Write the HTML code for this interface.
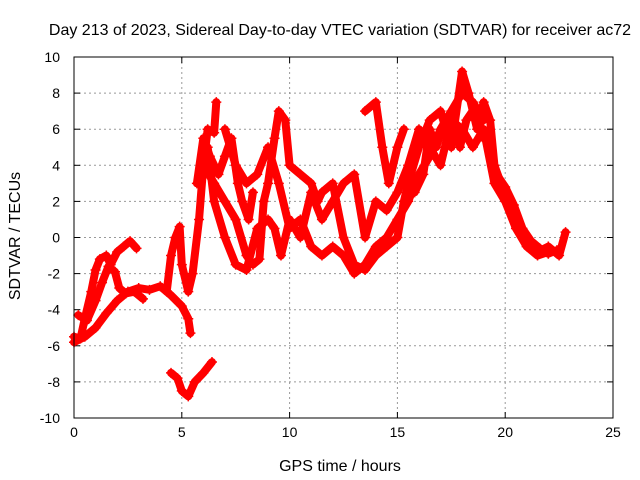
<!DOCTYPE html>
<html><head><meta charset="utf-8"><style>
body{margin:0;background:#fff}
svg{display:block;font-family:"Liberation Sans",sans-serif}
</style></head><body>
<svg id="chart" width="640" height="480">
<rect width="640" height="480" fill="#fff"/>
<text x="340" y="35" font-size="16" text-anchor="middle">Day 213 of 2023, Sidereal Day-to-day VTEC variation (SDTVAR) for receiver ac72</text>
<text x="340" y="471" font-size="16" text-anchor="middle">GPS time / hours</text>
<text transform="translate(20,236) rotate(-90)" font-size="16" text-anchor="middle">SDTVAR / TECUs</text>
<g id="grid"></g>
<g id="ticks"></g>
<g id="series"></g>
<rect x="74" y="57" width="539" height="361" fill="none" stroke="#000" stroke-width="1"/>
</svg>
<script>
const xTicks=[0,5,10,15,20,25];
const yTicks=[-10,-8,-6,-4,-2,0,2,4,6,8,10];
const trackA=[[0,-5.5],[0.3,-5.6],[0.5,-4.5],[0.8,-3],[1,-1.8],[1.2,-1.2],[1.5,-1],[1.7,-1.5],[2,-0.8],[2.3,-0.5],[2.6,-0.2],[2.9,-0.6]];
const trackB=[[0,-5.8],[0.5,-5.5],[1,-5],[1.5,-4.2],[2,-3.5],[2.5,-3],[3,-2.8],[3.5,-2.9],[4,-2.7],[4.5,-3.2],[5,-3.8],[5.3,-4.5],[5.4,-5.3]];
const trackH=[[0.2,-4.3],[0.6,-4.6],[1,-3.5],[1.3,-2.5],[1.6,-1.6],[1.9,-1.9],[2.1,-2.8],[2.4,-3.1],[2.8,-3],[3.2,-3.4]];
const trackC=[[4.3,-3],[4.5,-1],[4.7,0],[4.9,0.6],[5,-1.5],[5.3,-3],[5.5,-2],[5.8,1],[6,4],[6.2,6],[6.5,5.8],[6.6,7.5]];
const trackLow=[[4.5,-7.5],[4.8,-7.8],[5,-8.5],[5.3,-8.8],[5.6,-8],[6,-7.5],[6.4,-6.9]];
const trackD=[[6,4],[6.5,3],[7,2],[7.5,1],[8,-1],[8.3,-1.5],[8.6,-1.2],[8.8,2],[9,3],[9.3,5.5],[9.5,7],[9.8,6.5],[10,4],[10.5,3.5],[11,3],[11.3,2],[11.5,2.5],[12,3],[12.5,0],[13,-1.5],[13.5,-1.8],[14,-1],[14.5,-0.5],[15,0],[15.3,2],[15.5,3],[16,5],[16.5,6.5],[17,7],[17.5,5],[18,9.2],[18.3,8],[18.7,6],[19,7.5],[19.3,6.5],[19.5,4],[19.8,3],[20.2,2],[20.5,1],[21,-0.5],[21.5,-0.8],[22,-0.5],[22.5,-1],[22.8,0.3]];
const trackE=[[6.2,5],[6.5,2],[7,0],[7.5,-1.5],[8,-1.8],[8.5,0.5],[9,1],[9.3,0.5],[9.6,-1],[10,1],[10.5,0],[11,2.5],[11.5,1],[12,2],[12.5,3],[13,3.5],[13.5,0],[14,2],[14.5,1.5],[15,2.5],[15.5,4],[16,6],[16.5,5],[17,4],[17.5,6.5],[18,6],[18.5,5],[19,6],[19.5,3],[20,2],[20.5,0.5],[21,-0.5],[21.5,-1],[22,-0.8]];
const trackF=[[7,6],[7.5,4],[8,3],[8.5,3.5],[9,5],[9.5,3],[10,0.5],[10.5,1],[11,-0.5],[11.5,-1],[12,-0.5],[12.5,-1],[13,-2],[13.5,-1.5],[14,-0.5],[14.5,0],[15,1],[15.5,2],[16,3.5],[16.5,4.5],[17,6],[17.5,7],[18,8],[18.5,7.5],[19,6.5]];
const trackG=[[13.5,7],[14,7.5],[14.3,5],[14.6,3],[15,5],[15.3,6]];
const trackI=[[5.7,3],[6,5.5],[6.3,4.5],[6.7,3.5],[7,4.5],[7.3,5.5],[7.6,3],[7.8,2],[8.1,1],[8.3,2.5]];
const trackJ=[[15.8,2.5],[16.2,3.5],[16.5,6],[16.8,5],[17.2,6.5],[17.6,6.8],[17.9,5],[18.2,6.5],[18.6,7.2],[19,5.5]];
const trackK=[[19.6,3.5],[20,2.8],[20.4,1.8],[20.8,0.5],[21.2,-0.2],[21.6,-0.6],[22,-0.9],[22.4,-0.7]];
const tracks=[trackA,trackB,trackH,trackC,trackLow,trackD,trackE,trackF,trackG,trackI,trackJ,trackK];
const X0=74,X1=613,Y0=418,Y1=57;
const xs=v=>X0+(v-0)/(25-0)*(X1-X0);
const ys=v=>Y0-(v+10)/20*(Y0-Y1);
const NS="http://www.w3.org/2000/svg";
const grid=document.getElementById('grid'),ticks=document.getElementById('ticks'),ser=document.getElementById('series');
function mk(t,a,p){const e=document.createElementNS(NS,t);for(const k in a)e.setAttribute(k,a[k]);p.appendChild(e);return e;}
xTicks.forEach(v=>{const x=xs(v);
 if(v>0&&v<25){const g=mk('line',{x1:x,x2:x,y1:Y1,y2:Y0,stroke:'#999','stroke-dasharray':'2,3'},grid);
 
 }
 mk('line',{x1:x,x2:x,y1:Y0,y2:Y0-6,stroke:'#000'},ticks);mk('line',{x1:x,x2:x,y1:Y1,y2:Y1+6,stroke:'#000'},ticks);
 const t=mk('text',{x:x,y:Y0+19,'font-size':14,'text-anchor':'middle'},ticks);t.textContent=v;
 
 });
yTicks.forEach(v=>{const y=ys(v);
 if(v>-10&&v<10){const g=mk('line',{x1:X0,x2:X1,y1:y,y2:y,stroke:'#999','stroke-dasharray':'2,3'},grid);
 
 }
 mk('line',{x1:X0,x2:X0+6,y1:y,y2:y,stroke:'#000'},ticks);mk('line',{x1:X1,x2:X1-6,y1:y,y2:y,stroke:'#000'},ticks);
 const t=mk('text',{x:X0-14,y:y+5,'font-size':14,'text-anchor':'end'},ticks);t.textContent=v;
 
 });
tracks.forEach(tr=>{
 const pl=mk('polyline',{points:tr.map(p=>xs(p[0])+','+ys(p[1])).join(' '),fill:'none',stroke:'#f00','stroke-width':8,'stroke-linejoin':'round','stroke-linecap':'round'},ser);
 
 
 tr.forEach(p=>{const x=xs(p[0]),y=ys(p[1]);
  const m=mk('path',{d:`M${x-5},${y}H${x+5}M${x},${y-5}V${y+5}`,stroke:'#f00','stroke-width':1.5},ser);
  
  });
});
</script>
</body></html>
